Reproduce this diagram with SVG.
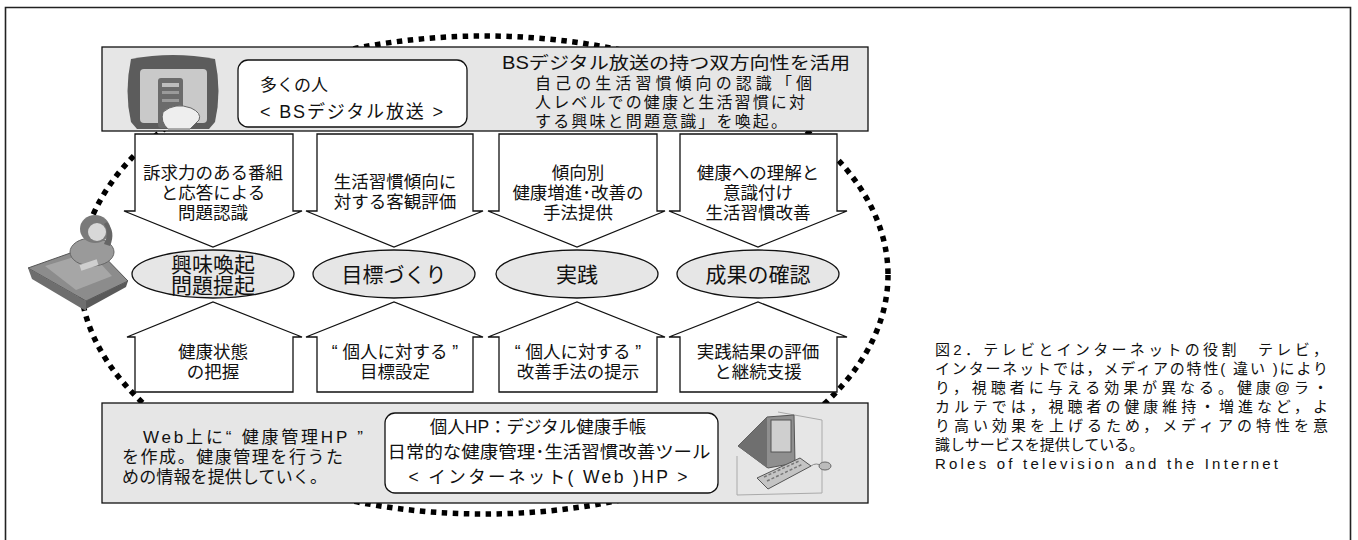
<svg xmlns="http://www.w3.org/2000/svg" width="1358" height="540" viewBox="0 0 1358 540">
  <style>
    .t { font-family: "Liberation Sans", "Noto Sans CJK JP", sans-serif; fill: #111; }
    .c { text-anchor: middle; }
    .panel { fill: #e6e6e6; stroke: #111; stroke-width: 1.3; }
    .box { fill: #fff; stroke: #111; stroke-width: 1.3; }
    .arrow { fill: #fff; stroke: #111; stroke-width: 1.3; stroke-linejoin: miter; }
    .stage { fill: #e6e6e6; stroke: #111; stroke-width: 1.3; }
    .a { font-size: 17.5px; }
    .e { font-size: 21px; }
    .cap { font-size: 15px; }
  </style>

  <!-- outer frame -->
  <path d="M5.5,545 V7.5 H1350.5 V545" fill="none" stroke="#222" stroke-width="1.6"/>

  <!-- cycle loop drawn underneath everything -->
  <g id="connectors">
    <ellipse cx="484" cy="275" rx="404" ry="239" fill="none" stroke="#000" stroke-width="5.5" stroke-dasharray="5.5 5.5"/>
  </g>

  <!-- broadcast panel -->
  <g id="bs-panel">
    <rect class="panel" x="102" y="47" width="766" height="84"/>
    <!-- TV with remote -->
    <path d="M131,59 Q173,51 215,59 Q222,92 215,122 L209,129 L137,129 L131,122 Q124,92 131,59 Z" fill="#5c5c5c"/>
    <rect x="140" y="69" width="67" height="54" rx="4" fill="#c9c9c9"/>
    <rect x="158" y="78" width="25" height="50" rx="3" fill="#6b6b6b"/>
    <rect x="162" y="83" width="17" height="4" fill="#bdbdbd"/>
    <rect x="162" y="91" width="17" height="3" fill="#9a9a9a"/>
    <rect x="162" y="99" width="17" height="3" fill="#9a9a9a"/>
    <path d="M163,112 Q175,102 191,108 Q202,113 199,120 L190,129 L168,129 Q160,122 163,112 Z" fill="#eeeeee" stroke="#666" stroke-width="1"/>
    <rect class="box" x="238" y="60" width="229" height="67" rx="10"/>
    <text class="t" x="260" y="91" font-size="17">多くの人</text>
    <text class="t" x="260" y="118" font-size="18" textLength="183" lengthAdjust="spacing">&lt; BSデジタル放送 &gt;</text>
    <text class="t c" x="676" y="69" font-size="17.5" textLength="348" lengthAdjust="spacingAndGlyphs">BSデジタル放送の持つ双方向性を活用</text>
    <text class="t" x="535" y="89" font-size="16" textLength="277" lengthAdjust="spacing">自己の生活習慣傾向の認識「個</text>
    <text class="t" x="535" y="108" font-size="16" textLength="270" lengthAdjust="spacing">人レベルでの健康と生活習慣に対</text>
    <text class="t" x="535" y="127" font-size="16" textLength="252" lengthAdjust="spacing">する興味と問題意識」を喚起。</text>
  </g>

  <!-- person at a desk -->
  <g id="viewer">
    <path d="M28,268 L93,245 L128,281 L86,301 Z" fill="#8c8c8c" stroke="#555" stroke-width="1"/>
    <path d="M28,268 L86,301 L86,311 L32,279 Z" fill="#6e6e6e"/>
    <path d="M86,301 L128,281 L126,287 L86,309 Z" fill="#5a5a5a"/>
    <path d="M45,266 L90,252 L112,276 L76,290 Z" fill="#a6a6a6"/>
    <ellipse cx="92" cy="252" rx="22" ry="14" fill="#9a9a9a" stroke="#666" stroke-width="1"/>
    <ellipse cx="95" cy="229" rx="15" ry="14" fill="#7a7a7a"/>
    <ellipse cx="97" cy="232" rx="9" ry="9" fill="#d8d8d8"/>
    <path d="M107,222 Q116,232 110,246 L104,244 Q110,232 104,224 Z" fill="#666"/>
    <rect x="80" y="262" width="18" height="6" fill="#cfcfcf" transform="rotate(-18 89 265)"/>
  </g>

  <!-- downward arrows -->
  <g id="need-1">
    <path class="arrow" d="M135,134 H293 V211 H302 L213,247 L124,211 H135 Z"/>
    <text class="t c a" x="213" y="179">訴求力のある番組</text>
    <text class="t c a" x="213" y="199">と応答による</text>
    <text class="t c a" x="213" y="219">問題認識</text>
  </g>
  <g id="need-2">
    <path class="arrow" d="M317,134 H473 V211 H483 L394,247 L306,211 H317 Z"/>
    <text class="t c a" x="395" y="188">生活習慣傾向に</text>
    <text class="t c a" x="395" y="208">対する客観評価</text>
  </g>
  <g id="need-3">
    <path class="arrow" d="M499,134 H657 V211 H665 L577,247 L488,211 H499 Z"/>
    <text class="t c a" x="578" y="179">傾向別</text>
    <text class="t c a" x="578" y="199">健康増進･改善の</text>
    <text class="t c a" x="578" y="219">手法提供</text>
  </g>
  <g id="need-4">
    <path class="arrow" d="M680,134 H837 V211 H847 L758,247 L669,211 H680 Z"/>
    <text class="t c a" x="758" y="179">健康への理解と</text>
    <text class="t c a" x="758" y="199">意識付け</text>
    <text class="t c a" x="758" y="219">生活習慣改善</text>
  </g>

  <!-- stages -->
  <g id="stage-1">
    <ellipse class="stage" cx="213" cy="274" rx="81" ry="24"/>
    <text class="t c e" x="213" y="272">興味喚起</text>
    <text class="t c e" x="213" y="293">問題提起</text>
  </g>
  <g id="stage-2">
    <ellipse class="stage" cx="394" cy="274" rx="81" ry="24"/>
    <text class="t c e" x="394" y="282">目標づくり</text>
  </g>
  <g id="stage-3">
    <ellipse class="stage" cx="577" cy="274" rx="81" ry="24"/>
    <text class="t c e" x="577" y="282">実践</text>
  </g>
  <g id="stage-4">
    <ellipse class="stage" cx="758" cy="274" rx="81" ry="24"/>
    <text class="t c e" x="758" y="282">成果の確認</text>
  </g>

  <!-- upward arrows -->
  <g id="support-1">
    <path class="arrow" d="M135,392 H293 V337 H302 L213,302 L127,337 H135 Z"/>
    <text class="t c a" x="213" y="358">健康状態</text>
    <text class="t c a" x="213" y="378">の把握</text>
  </g>
  <g id="support-2">
    <path class="arrow" d="M317,392 H473 V337 H483 L394,302 L306,337 H317 Z"/>
    <text class="t c a" x="395" y="358">“ 個人に対する ”</text>
    <text class="t c a" x="395" y="378">目標設定</text>
  </g>
  <g id="support-3">
    <path class="arrow" d="M499,392 H657 V337 H665 L577,302 L488,337 H499 Z"/>
    <text class="t c a" x="578" y="358">“ 個人に対する ”</text>
    <text class="t c a" x="578" y="378">改善手法の提示</text>
  </g>
  <g id="support-4">
    <path class="arrow" d="M680,392 H837 V337 H847 L758,302 L669,337 H680 Z"/>
    <text class="t c a" x="758" y="358">実践結果の評価</text>
    <text class="t c a" x="758" y="378">と継続支援</text>
  </g>

  <!-- internet panel -->
  <g id="web-panel">
    <rect class="panel" x="102" y="403" width="766" height="100"/>
    <text class="t" x="143" y="443" font-size="17" textLength="220" lengthAdjust="spacing">Web上に“ 健康管理HP ”</text>
    <text class="t" x="122" y="463" font-size="17" textLength="221" lengthAdjust="spacing">を作成。健康管理を行うた</text>
    <text class="t" x="122" y="483" font-size="17" textLength="205" lengthAdjust="spacing">めの情報を提供していく。</text>
    <rect class="box" x="385" y="413" width="333" height="80" rx="10"/>
    <text class="t c" x="538" y="433" font-size="17.5">個人HP：デジタル健康手帳</text>
    <text class="t c" x="549" y="458" font-size="17.5" textLength="323" lengthAdjust="spacingAndGlyphs">日常的な健康管理･生活習慣改善ツール</text>
    <text class="t c" x="548" y="483" font-size="17.5" textLength="279" lengthAdjust="spacing">&lt; インターネット( Web )HP &gt;</text>
    <!-- computer -->
    <path d="M737,456 L737,495 L822,493 L822,420 L778,412" fill="none" stroke="#aaa" stroke-width="1"/>
    <path d="M738,446 L767,417 L794,415 L795,463 L768,468 Z" fill="#8f8f8f" stroke="#555" stroke-width="1"/>
    <path d="M738,446 L767,417 L767,468 Z" fill="#6f6f6f"/>
    <rect x="771" y="420" width="20" height="32" fill="#cfcfcf" stroke="#555" stroke-width="1"/>
    <path d="M757,478 L800,458 L811,466 L768,489 Z" fill="#c4c4c4" stroke="#555" stroke-width="1"/>
    <path d="M764,477 L799,461 M767,481 L803,464" stroke="#777" stroke-width="1.5" stroke-dasharray="3 2"/>
    <path d="M811,466 Q816,462 822,466" fill="none" stroke="#888" stroke-width="1"/>
    <ellipse cx="825" cy="466" rx="6" ry="4" fill="#bbb" stroke="#666" stroke-width="1"/>
  </g>

  <!-- figure caption -->
  <g id="caption">
    <text class="t cap" x="935" y="355" textLength="393" lengthAdjust="spacing">図2．テレビとインターネットの役割　テレビ，</text>
    <text class="t cap" x="935" y="374" textLength="393" lengthAdjust="spacing">インターネットでは，メディアの特性( 違い )により</text>
    <text class="t cap" x="935" y="393" textLength="393" lengthAdjust="spacing">り，視聴者に与える効果が異なる。健康@ラ・</text>
    <text class="t cap" x="935" y="412" textLength="393" lengthAdjust="spacing">カルテでは，視聴者の健康維持・増進など，よ</text>
    <text class="t cap" x="935" y="431" textLength="393" lengthAdjust="spacing">り高い効果を上げるため，メディアの特性を意</text>
    <text class="t cap" x="935" y="450">識しサービスを提供している。</text>
    <text class="t cap" x="935" y="469" textLength="343" lengthAdjust="spacing">Roles of television and the Internet</text>
  </g>
</svg>
